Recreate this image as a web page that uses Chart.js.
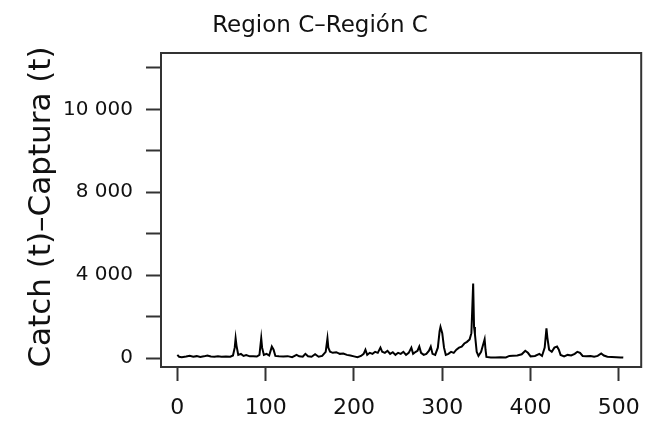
<!DOCTYPE html>
<html>
<head>
<meta charset="utf-8">
<script src="https://cdn.jsdelivr.net/npm/chart.js@4.4.1/dist/chart.umd.min.js"></script>
<style>
  html, body { margin: 0; padding: 0; background: #fff; }
  canvas { display: block; }
</style>
</head>
<body>
<canvas id="catchChart" width="654" height="427"></canvas>
<script>
const titleText = "Region C–Región C";
const yTitleText = "Catch (t)–Captura (t)";

// tick positions and the labels as printed on the figure
const xTickValues = [0, 100, 200, 300, 400, 500];
const yTickValues = [0, 2000, 4000, 6000, 8000, 10000, 12000, 14000];
const yTickLabels = ["0", "", "4 000", "", "8 000", "", "10 000", ""];

const pointIndex = [
  0, 2, 5, 10, 14, 18, 22, 26, 30, 34, 38, 42, 46, 50, 55, 60, 63, 65, 66, 67,
  69, 72, 75, 78, 82, 86, 90, 93, 95, 96, 98, 101, 104, 107, 109, 111, 115, 120, 125, 130,
  135, 138, 142, 145, 148, 152, 156, 160, 164, 168, 170, 171, 173, 176, 180, 184, 188, 192, 196, 200,
  204, 208, 211, 213, 215, 218, 221, 224, 227, 230, 232, 235, 238, 241, 244, 247, 250, 253, 256, 259,
  262, 265, 267, 270, 272, 274, 276, 279, 282, 285, 287, 289, 292, 295, 297, 298, 300, 302, 304, 307,
  310, 313, 316, 319, 322, 325, 328, 331, 333, 335, 336, 337, 339, 341, 344, 346, 348, 349, 350, 355,
  360, 366, 372, 376, 380, 385, 390, 394, 397, 400, 405, 410, 413, 416, 418, 419, 421, 424, 427, 430,
  432, 434, 438, 442, 446, 450, 453, 456, 459, 463, 468, 472, 476, 480, 483, 487, 492, 497, 502, 505
];
const catchTonnes = [
  150, 60, 40, 70, 110, 60, 90, 50, 80, 120, 70, 60, 90, 60, 70, 60, 120, 500, 950, 600,
  150, 200, 100, 140, 80, 90, 70, 150, 950, 500, 150, 200, 120, 550, 400, 100, 80, 70, 90, 40,
  150, 80, 60, 200, 80, 60, 180, 60, 100, 300, 950, 500, 300, 250, 280, 200, 220, 150, 120, 80,
  40, 100, 200, 400, 150, 250, 200, 300, 250, 500, 300, 250, 350, 200, 280, 150, 250, 200, 300, 150,
  250, 500, 200, 300, 350, 550, 250, 150, 200, 350, 550, 200, 150, 500, 1300, 1500, 1200, 500, 150, 200,
  300, 250, 400, 500, 550, 700, 780, 900, 1200, 3600, 1500, 1150, 300, 100, 300, 600, 900, 400, 50, 20,
  30, 40, 30, 100, 110, 120, 180, 350, 250, 80, 100, 200, 100, 500, 1430, 1000, 400, 300, 500, 550,
  400, 150, 80, 150, 120, 200, 300, 250, 100, 80, 100, 60, 100, 220, 120, 60, 50, 40, 30, 20
];

const fontFamily = "'DejaVu Sans', sans-serif";
const inkColor = "#111";
const axisColor = "#333";

const frameAndLabels = {
  id: "frameAndLabels",
  afterDraw(chart) {
    const { ctx, chartArea } = chart;
    ctx.save();
    ctx.strokeStyle = axisColor;
    ctx.lineWidth = 2;
    ctx.strokeRect(chartArea.left, chartArea.top,
      chartArea.right - chartArea.left, chartArea.bottom - chartArea.top);

    ctx.fillStyle = inkColor;
    ctx.font = "23px " + fontFamily;
    ctx.textAlign = "center";
    ctx.textBaseline = "alphabetic";
    ctx.fillText(titleText, 320, 32);

    ctx.font = "31px " + fontFamily;
    ctx.translate(50, 207);
    ctx.rotate(-Math.PI / 2);
    ctx.fillText(yTitleText, 0, 0);
    ctx.restore();
  }
};

new Chart(document.getElementById("catchChart"), {
  type: "line",
  data: {
    datasets: [
      {
        data: pointIndex.map((x, i) => ({ x: x, y: catchTonnes[i] })),
        borderColor: "#000",
        borderWidth: 2,
        pointRadius: 0,
        tension: 0,
        fill: false,
      },
    ],
  },
  options: {
    responsive: false,
    animation: false,
    layout: { padding: { top: 53, right: 3, left: 0, bottom: 0 } },
    plugins: {
      legend: { display: false },
      tooltip: { enabled: false },
    },
    scales: {
      x: {
        type: "linear",
        min: -18.5,
        max: 525.3,
        afterFit: (scale) => { scale.height = 60; },
        afterBuildTicks: (scale) => { scale.ticks = xTickValues.map((v) => ({ value: v })); },
        border: { display: false },
        grid: { drawOnChartArea: false, tickLength: 14, tickColor: axisColor, tickWidth: 2 },
        ticks: {
          autoSkip: false,
          maxRotation: 0,
          padding: 14,
          color: inkColor,
          font: { family: fontFamily, size: 22 },
          callback: (v) => String(v),
        },
      },
      y: {
        type: "linear",
        min: -434,
        max: 14724,
        afterFit: (scale) => { scale.width = 161; },
        afterBuildTicks: (scale) => { scale.ticks = yTickValues.map((v) => ({ value: v })); },
        border: { display: false },
        grid: { drawOnChartArea: false, tickLength: 15, tickColor: axisColor, tickWidth: 2 },
        ticks: {
          autoSkip: false,
          padding: 13,
          color: inkColor,
          font: { family: fontFamily, size: 20 },
          callback: (v) => yTickLabels[yTickValues.indexOf(v)] ?? "",
        },
      },
    },
  },
  plugins: [frameAndLabels],
});
</script>
</body>
</html>
